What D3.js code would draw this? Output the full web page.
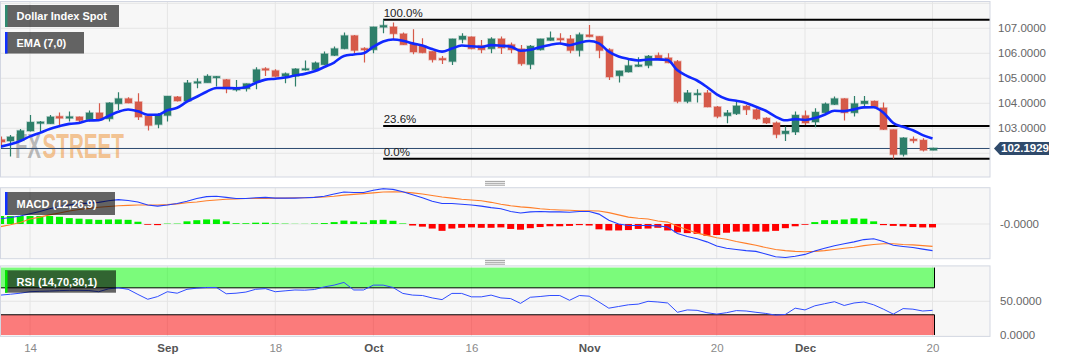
<!DOCTYPE html>
<html><head><meta charset="utf-8">
<script src="https://cdn.jsdelivr.net/npm/d3@7"></script>
<style>html,body{margin:0;padding:0;background:#fff;overflow:hidden}text{font-family:"Liberation Sans",Arial,sans-serif}</style>
</head><body>
<svg id="chart" width="1067" height="360"></svg>
<script>
// ---------------- DATA ----------------
const dates = [
"2023-08-09","2023-08-10","2023-08-11","2023-08-14","2023-08-15","2023-08-16","2023-08-17","2023-08-18","2023-08-21","2023-08-22","2023-08-23","2023-08-24","2023-08-25","2023-08-28","2023-08-29","2023-08-30","2023-08-31",
"2023-09-01","2023-09-04","2023-09-05","2023-09-06","2023-09-07","2023-09-08","2023-09-11","2023-09-12","2023-09-13","2023-09-14","2023-09-15","2023-09-18","2023-09-19","2023-09-20","2023-09-21","2023-09-22","2023-09-25","2023-09-26","2023-09-27","2023-09-28","2023-09-29",
"2023-10-02","2023-10-03","2023-10-04","2023-10-05","2023-10-06","2023-10-09","2023-10-10","2023-10-11","2023-10-12","2023-10-13","2023-10-16","2023-10-17","2023-10-18","2023-10-19","2023-10-20","2023-10-23","2023-10-24","2023-10-25","2023-10-26","2023-10-27","2023-10-30","2023-10-31",
"2023-11-01","2023-11-02","2023-11-03","2023-11-06","2023-11-07","2023-11-08","2023-11-09","2023-11-10","2023-11-13","2023-11-14","2023-11-15","2023-11-16","2023-11-17","2023-11-20","2023-11-21","2023-11-22","2023-11-23","2023-11-24","2023-11-27","2023-11-28","2023-11-29","2023-11-30",
"2023-12-01","2023-12-04","2023-12-05","2023-12-06","2023-12-07","2023-12-08","2023-12-11","2023-12-12","2023-12-13","2023-12-14","2023-12-15","2023-12-18","2023-12-19","2023-12-20"];

const open = [102.53,102.51,102.53,102.91,103.21,103.20,103.46,103.42,103.44,103.36,103.60,103.40,104.00,104.17,104.04,103.47,103.17,
103.53,104.24,104.11,104.82,104.84,105.04,104.93,104.55,104.60,104.87,105.37,105.29,105.10,105.10,105.35,105.36,105.56,105.93,106.20,106.69,106.18,
106.16,107.06,107.04,106.76,106.36,106.27,106.06,105.78,105.69,106.57,106.64,106.29,106.20,106.56,106.33,106.16,105.57,106.16,106.53,106.58,106.56,106.13,
106.72,106.66,106.13,105.12,105.27,105.49,105.53,105.90,105.80,105.66,104.09,104.36,104.40,103.84,103.52,103.60,103.87,103.73,103.39,103.20,102.80,102.87,
103.49,103.27,103.64,103.97,104.17,103.64,104.00,104.07,103.80,102.93,101.97,102.55,102.51,102.14];
const high = [102.67,102.73,102.97,103.53,103.29,103.53,103.63,103.67,103.47,103.71,104.00,104.04,104.44,104.24,104.40,103.53,103.60,
104.29,104.29,104.93,105.00,105.16,105.09,104.97,104.93,104.79,105.44,105.44,105.36,105.23,105.40,105.71,105.67,106.07,106.27,106.83,106.73,106.24,
107.06,107.34,107.23,106.83,106.96,106.60,106.08,105.89,106.58,106.80,106.67,106.53,106.64,106.67,106.43,106.33,106.33,106.58,106.87,106.80,106.73,106.83,
107.13,106.68,106.20,105.30,105.76,105.84,105.93,106.03,106.00,105.73,104.53,104.56,104.53,103.89,103.73,104.10,103.93,103.80,103.44,103.27,103.07,103.67,
103.71,103.80,104.03,104.27,104.20,104.29,104.29,104.11,104.03,102.95,102.64,102.67,102.60,102.22];
const low = [102.27,101.87,102.47,102.87,102.83,103.17,103.13,103.27,103.24,103.27,103.33,103.27,103.73,104.00,103.33,102.91,103.00,
103.27,104.07,104.07,104.60,104.83,104.67,104.40,104.47,104.47,104.56,105.09,105.04,104.80,104.67,105.31,105.33,105.53,105.89,106.16,106.00,105.63,
106.00,106.80,106.56,106.33,105.96,106.00,105.63,105.57,105.53,106.40,106.16,106.00,106.00,105.97,106.00,105.50,105.36,106.11,106.50,106.40,106.00,105.87,
106.64,105.80,104.93,104.83,105.23,105.45,105.40,105.73,105.60,104.00,104.00,104.03,103.84,103.40,103.20,103.53,103.53,103.33,103.17,102.60,102.49,102.73,
103.13,103.04,103.60,103.93,103.31,103.47,103.89,103.80,102.93,101.78,101.87,102.40,102.07,102.12];
const close = [102.47,102.64,102.89,103.23,103.24,103.44,103.42,103.45,103.33,103.60,103.36,104.00,104.17,104.03,103.47,103.13,103.53,
104.27,104.11,104.80,104.85,105.07,105.06,104.60,104.58,104.77,105.33,105.34,105.09,105.17,105.36,105.37,105.60,105.96,106.17,106.69,106.13,106.15,
107.04,107.10,106.80,106.36,106.07,106.04,105.76,105.75,106.56,106.67,106.20,106.16,106.56,106.23,106.16,105.60,106.27,106.56,106.60,106.55,106.13,106.73,
106.68,106.13,105.07,105.28,105.49,105.52,105.87,105.78,105.64,104.09,104.40,104.38,103.87,103.49,103.60,103.88,103.76,103.40,103.23,102.77,102.87,103.51,
103.23,103.63,103.96,104.17,103.64,103.97,104.07,103.87,102.97,101.97,102.60,102.52,102.14,102.1929];

const macdLine = [0.14,0.17,0.21,0.27,0.33,0.40,0.46,0.50,0.53,0.55,0.57,0.61,0.64,0.62,0.58,0.50,0.47,0.50,0.54,0.60,0.67,0.72,0.73,0.70,0.67,0.67,0.69,0.70,0.68,0.68,0.68,0.69,0.70,0.73,0.79,0.84,0.83,0.83,0.89,0.93,0.91,0.85,0.77,0.69,0.60,0.54,0.54,0.52,0.50,0.47,0.43,0.40,0.33,0.29,0.32,0.33,0.32,0.32,0.31,0.33,0.33,0.26,0.10,0.00,-0.04,-0.04,-0.04,-0.05,-0.08,-0.25,-0.33,-0.39,-0.47,-0.58,-0.64,-0.67,-0.70,-0.72,-0.79,-0.86,-0.88,-0.85,-0.80,-0.71,-0.64,-0.57,-0.52,-0.47,-0.41,-0.39,-0.46,-0.56,-0.59,-0.62,-0.66,-0.70];
const signalLine = [-0.07,-0.02,0.04,0.13,0.18,0.24,0.29,0.34,0.38,0.41,0.44,0.46,0.48,0.49,0.50,0.50,0.50,0.51,0.53,0.56,0.58,0.61,0.63,0.65,0.66,0.67,0.67,0.67,0.68,0.68,0.69,0.69,0.70,0.71,0.73,0.76,0.78,0.80,0.82,0.84,0.85,0.84,0.82,0.79,0.75,0.71,0.68,0.65,0.63,0.61,0.57,0.52,0.48,0.45,0.43,0.40,0.38,0.37,0.36,0.35,0.35,0.34,0.30,0.24,0.18,0.15,0.13,0.08,0.05,-0.06,-0.15,-0.24,-0.30,-0.36,-0.40,-0.46,-0.51,-0.56,-0.62,-0.67,-0.70,-0.72,-0.73,-0.72,-0.70,-0.67,-0.64,-0.61,-0.57,-0.54,-0.52,-0.52,-0.54,-0.55,-0.57,-0.59];
const macdHist = [0.21,0.21,0.21,0.21,0.21,0.21,0.19,0.155,0.14,0.125,0.11,0.12,0.12,0.11,0.06,-0.02,-0.03,0.01,0.01,0.07,0.10,0.12,0.12,0.07,0.02,0.02,0.035,0.035,0.015,0.01,0.005,0.005,0.015,0.025,0.05,0.09,0.07,0.04,0.10,0.11,0.085,0.015,-0.04,-0.07,-0.12,-0.18,-0.12,-0.10,-0.09,-0.10,-0.10,-0.09,-0.13,-0.15,-0.11,-0.08,-0.06,-0.06,-0.05,-0.03,-0.04,-0.14,-0.17,-0.17,-0.16,-0.13,-0.12,-0.10,-0.17,-0.22,-0.24,-0.26,-0.31,-0.29,-0.23,-0.20,-0.20,-0.20,-0.20,-0.18,-0.11,-0.06,-0.02,0.05,0.10,0.10,0.12,0.15,0.14,0.07,-0.03,-0.05,-0.06,-0.08,-0.09,-0.09];
const rsiValues = [59.2,60.5,62,64.2,64.8,65.2,65.8,66.3,66.3,66,64.2,68.5,70,67.8,60.2,53,57,64.2,62,67.8,69.5,70.5,70.5,61.2,62,63.7,67.8,68.8,64.2,65.5,66.8,66.5,67.5,71.4,74,78,66.8,66.8,74,74,70.5,61.7,59.2,58.6,55,52.5,61.7,61.7,56.6,56.6,59.2,55,54,46.9,56,57.1,58.6,58.6,51.5,58.6,57.6,49,39.8,42.3,44.8,45.8,50,49,47.5,33.7,37.2,36.6,33.1,31,33.1,36.2,35.6,33.7,32,29.5,30.5,39.8,37.2,43.3,46.4,49.4,43.8,47.5,49,44.8,38.3,31,39.2,38.3,35.6,36.6];

const priceTicks = [103, 104, 105, 106, 107];
const priceGrid = [102, 103, 104, 105, 106, 107, 108];
const dateTicks = [
  {date:"2023-08-14", label:"14", bold:false},
  {date:"2023-09-01", label:"Sep", bold:true},
  {date:"2023-09-18", label:"18", bold:false},
  {date:"2023-10-02", label:"Oct", bold:true},
  {date:"2023-10-16", label:"16", bold:false},
  {date:"2023-11-01", label:"Nov", bold:true},
  {date:"2023-11-20", label:"20", bold:false},
  {date:"2023-12-01", label:"Dec", bold:true},
  {date:"2023-12-20", label:"20", bold:false}];
const fibLevels = [{level:1, label:"100.0%"}, {level:0.236, label:"23.6%"}, {level:0, label:"0.0%"}];
const fibHigh = 107.34, fibLow = 101.78, fibStartDate = "2023-10-03";
const lastPrice = 102.1929;
const emaPeriod = 7, emaPrev = 102.2;
const rsiBands = {upper:70, lower:30};

// ---------------- LAYOUT ----------------
const svg = d3.select("#chart");
const PX1 = 990;
const P = {
  main: {top: 1.5, bottom: 177},
  macd: {top: 187.7, bottom: 258.7},
  rsi:  {top: 265.9, bottom: 336.4}
};
const idx = dates.map((d, i) => i);
const x = d3.scaleLinear().domain([-0.0612, 100.86]).range([0, PX1]);
const xd = d => x(dates.indexOf(d));
const yMain = d3.scaleLinear().domain([101.052, 108.072]).range([P.main.bottom, P.main.top]);
const yMacd = d3.scaleLinear().domain([-0.913, 0.955]).range([P.macd.bottom, P.macd.top]);
const yRsi = d3.scaleLinear().domain([0, 100]).range([335, 267.6]);

// EMA from closes
const k = 2 / (emaPeriod + 1);
const ema = [];
close.forEach((c, i) => { const prev = i ? ema[i-1] : emaPrev; ema.push(prev + k * (c - prev)); });

const GRID = "#e5e5e5";
const defs = svg.append("defs");
function panel(name, p) {
  defs.append("clipPath").attr("id", "clip-" + name)
    .append("rect").attr("x", 0).attr("y", p.top).attr("width", PX1).attr("height", p.bottom - p.top);
  svg.append("rect").attr("x", 0.5).attr("y", p.top).attr("width", PX1 - 0.5).attr("height", p.bottom - p.top)
    .attr("fill", "#f7f7f7");
  const g = svg.append("g").attr("clip-path", `url(#clip-${name})`);
  g.selectAll("line.vg").data(dateTicks).join("line").attr("class", "vg")
    .attr("x1", d => xd(d.date)).attr("x2", d => xd(d.date))
    .attr("y1", p.top).attr("y2", p.bottom).attr("stroke", GRID).attr("stroke-width", 1);
  return g;
}
function border(p) {
  svg.append("rect").attr("x", 0.5).attr("y", p.top).attr("width", PX1 - 0.5).attr("height", p.bottom - p.top)
    .attr("fill", "none").attr("stroke", "#d3d7e2").attr("stroke-width", 1);
}
function legend(y, h, w, label, accent) {
  const g = svg.append("g");
  g.append("rect").attr("x", 5).attr("y", y).attr("width", w).attr("height", h).attr("fill", "rgba(0,0,0,0.6)");
  g.append("rect").attr("x", 5).attr("y", y).attr("width", 2.5).attr("height", h).attr("fill", accent);
  g.append("text").attr("x", 16.5).attr("y", y + h / 2 + 4).attr("fill", "#fff")
    .attr("font-size", 11).attr("font-weight", "bold").text(label);
}
function handle(y) {
  [0, 1.9, 3.8].forEach(o => svg.append("line").attr("x1", 485).attr("x2", 505)
    .attr("y1", y + o).attr("y2", y + o).attr("stroke", "#888").attr("stroke-width", 0.8));
}
// a word squeezed horizontally to a target width (scale transform keeps its box exact)
function squeezed(g, word, x0, x1, yBase, fill, op) {
  const t = g.append("text").attr("x", 0).attr("y", 0).attr("fill", fill).attr("fill-opacity", op).text(word);
  const w = t.node().getComputedTextLength();
  t.attr("transform", `translate(${x0},${yBase}) scale(${(x1 - x0) / w},1)`);
}

// ---------------- MAIN PANEL ----------------
const gm = panel("main", P.main);
gm.selectAll("line.hg").data(priceGrid).join("line").attr("class", "hg")
  .attr("x1", 0).attr("x2", PX1).attr("y1", d => yMain(d)).attr("y2", d => yMain(d))
  .attr("stroke", GRID);

// watermark
const wm = gm.append("g").attr("font-weight", "bold").attr("font-size", 36);
squeezed(wm, "FX", 15, 41, 158, "#8e8e8e", 0.6);
squeezed(wm, "STREET", 42.5, 124, 158, "#f0a457", 0.65);

// last price line
gm.append("line").attr("x1", 0).attr("x2", PX1).attr("y1", yMain(lastPrice)).attr("y2", yMain(lastPrice))
  .attr("stroke", "#2c4a70").attr("stroke-width", 1);

// fib lines
const fibX0 = xd(fibStartDate);
fibLevels.forEach(f => {
  const p = fibLow + f.level * (fibHigh - fibLow);
  gm.append("line").attr("x1", fibX0).attr("x2", PX1).attr("y1", yMain(p)).attr("y2", yMain(p))
    .attr("stroke", "#000").attr("stroke-width", 2);
  gm.append("text").attr("x", fibX0 + 0.5).attr("y", yMain(p) - 3).attr("font-size", 11.5)
    .attr("fill", "#222").text(f.label);
});

// candles
const GREEN = "#2e7f6a", RED = "#d65a4a";
const cg = gm.append("g");
idx.forEach(i => {
  const up = close[i] >= open[i];
  const col = up ? GREEN : RED;
  const cx = Math.round(x(i)) + 0.5;
  cg.append("line").attr("x1", cx).attr("x2", cx).attr("y1", yMain(high[i])).attr("y2", yMain(low[i]))
    .attr("stroke", col).attr("stroke-width", 1.2);
  const yt = yMain(Math.max(open[i], close[i])), yb = yMain(Math.min(open[i], close[i]));
  cg.append("rect").attr("x", cx - 3.5).attr("y", yt - 0.5).attr("width", 7).attr("height", Math.max(yb - yt, 0.6) + 1)
    .attr("fill", col).attr("stroke", col).attr("stroke-opacity", 0.35).attr("stroke-width", 1.5);
});

// EMA
gm.append("path").datum(idx).attr("fill", "none").attr("stroke", "#1028ff").attr("stroke-width", 2.6)
  .attr("stroke-linejoin", "round")
  .attr("d", d3.line().x(i => x(i)).y(i => yMain(ema[i])).curve(d3.curveMonotoneX));
border(P.main);

// price axis
const pa = svg.append("g").attr("transform", `translate(998,0)`)
  .call(d3.axisRight(yMain).tickValues(priceTicks).tickFormat(d3.format(".4f")).tickSize(0).tickPadding(0));
pa.select(".domain").remove();
pa.selectAll("text").attr("fill", "#666").attr("font-size", 11.5).attr("font-family", "Liberation Sans, Arial");

// last price tag
const ly = yMain(lastPrice);
svg.append("path").attr("d", `M994,${ly} L1000,${ly-6.5} L1049,${ly-6.5} L1049,${ly+6.5} L1000,${ly+6.5} Z`)
  .attr("fill", "#2f4a6b");
svg.append("text").attr("x", 1001).attr("y", ly + 4).attr("fill", "#fff").attr("font-size", 11.5)
  .attr("font-weight", "bold").text(d3.format(".4f")(lastPrice));

legend(5, 22, 114, "Dollar Index Spot", "#2e8b70");
legend(32, 21.5, 79, "EMA (7,0)", "#1030ff");

handle(181.4);

// ---------------- MACD PANEL ----------------
const gc = panel("macd", P.macd);
gc.append("line").attr("x1", 0).attr("x2", PX1).attr("y1", yMacd(0)).attr("y2", yMacd(0)).attr("stroke", GRID);
gc.selectAll("rect.h").data(idx).join("rect").attr("class", "h")
  .attr("x", i => x(i) - 3.5).attr("width", 7)
  .attr("y", i => Math.min(yMacd(0), yMacd(macdHist[i])))
  .attr("height", i => Math.abs(yMacd(macdHist[i]) - yMacd(0)))
  .attr("fill", i => macdHist[i] >= 0 ? "#00f000" : "#ff0000");
gc.append("path").datum(idx).attr("fill", "none").attr("stroke", "#ff7f2a").attr("stroke-width", 1.1)
  .attr("d", d3.line().x(i => x(i)).y(i => yMacd(signalLine[i])));
gc.append("path").datum(idx).attr("fill", "none").attr("stroke", "#2440ff").attr("stroke-width", 1.1)
  .attr("d", d3.line().x(i => x(i)).y(i => yMacd(macdLine[i])));
border(P.macd);
svg.append("text").attr("x", 1000).attr("y", yMacd(0) + 4).attr("fill", "#666").attr("font-size", 11.5).text("-0.0000");
legend(192, 23, 110, "MACD (12,26,9)", "#1030ff");

handle(260.4);

// ---------------- RSI PANEL ----------------
const gr = panel("rsi", P.rsi);
const bandX1 = x(dates.length - 1) + 2;
gr.append("rect").attr("x", 0).attr("y", yRsi(100)).attr("width", bandX1).attr("height", yRsi(rsiBands.upper) - yRsi(100))
  .attr("fill", "rgba(0,255,0,0.5)");
gr.append("rect").attr("x", 0).attr("y", yRsi(rsiBands.lower)).attr("width", bandX1).attr("height", yRsi(0) - yRsi(rsiBands.lower))
  .attr("fill", "rgba(255,0,0,0.5)");
gr.append("line").attr("x1", 0).attr("x2", PX1).attr("y1", yRsi(50)).attr("y2", yRsi(50)).attr("stroke", GRID);
[rsiBands.upper, rsiBands.lower].forEach(v => gr.append("line").attr("x1", 0).attr("x2", bandX1)
  .attr("y1", yRsi(v)).attr("y2", yRsi(v)).attr("stroke", "#000").attr("stroke-width", 1));
[[100, rsiBands.upper], [rsiBands.lower, 0]].forEach(([a, b]) => {
  [0.5, bandX1].forEach(xx => gr.append("line").attr("x1", xx).attr("x2", xx).attr("y1", yRsi(a)).attr("y2", yRsi(b))
    .attr("stroke", "#000").attr("stroke-width", 1));
});
gr.append("path").datum(idx).attr("fill", "none").attr("stroke", "#2f4cff").attr("stroke-width", 1)
  .attr("d", d3.line().x(i => x(i)).y(i => yRsi(rsiValues[i])));
border(P.rsi);
svg.append("text").attr("x", 1000).attr("y", yRsi(50) + 4).attr("fill", "#666").attr("font-size", 11.5).text("50.0000");
svg.append("text").attr("x", 1000).attr("y", yRsi(0) + 4).attr("fill", "#666").attr("font-size", 11.5).text("0.0000");
legend(270.3, 22.4, 111, "RSI (14,70,30,1)", "#00e600");

// ---------------- DATE AXIS ----------------
const xa = svg.append("g").attr("transform", `translate(0,344)`)
  .call(d3.axisBottom(x).tickValues(dateTicks.map(d => dates.indexOf(d.date)))
    .tickFormat((v, i) => dateTicks[i].label).tickSize(0).tickPadding(0));
xa.select(".domain").remove();
xa.selectAll("text").attr("font-size", 11.5).attr("font-family", "Liberation Sans, Arial")
  .attr("font-weight", (v, i) => dateTicks[i].bold ? "bold" : "normal")
  .attr("fill", (v, i) => dateTicks[i].bold ? "#555" : "#8a8a8a");
</script>
</body></html>
